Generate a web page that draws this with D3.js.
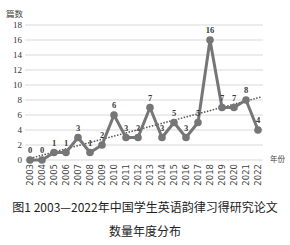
<!DOCTYPE html>
<html>
<head>
<meta charset="utf-8">
<script src="https://cdn.jsdelivr.net/npm/d3@7"></script>
<style>
  body { margin: 0; background: #fff; }
  svg { display: block; }
</style>
</head>
<body>
<div id="chart"></div>
<script>
var years = ["2003", "2004", "2005", "2006", "2007", "2008", "2009", "2010", "2011", "2012",
  "2013", "2014", "2015", "2016", "2017", "2018", "2019", "2020", "2021", "2022"];
var counts = [0, 0, 1, 1, 3, 1, 2, 6, 3, 3, 7, 3, 5, 3, 5, 16, 7, 7, 8, 4];
var yTicks = [0, 2, 4, 6, 8, 10, 12, 14, 16, 18];

var svgWidth = 290;
var svgHeight = 245;

var svg = d3.select("#chart")
  .append("svg")
  .attr("width", svgWidth)
  .attr("height", svgHeight);

// plot area
var x = d3.scalePoint()
  .domain(years)
  .range([30, 258]);

var y = d3.scaleLinear()
  .domain([0, 18])
  .range([160, 25]);

var serif = "'Liberation Serif', 'DejaVu Serif', serif";
var cjk = "'Noto Sans CJK SC', sans-serif";

// gridlines
svg.append("g")
  .selectAll("line")
  .data(yTicks)
  .enter()
  .append("line")
  .attr("x1", 25)
  .attr("x2", 263)
  .attr("y1", d => y(d))
  .attr("y2", d => y(d))
  .attr("stroke", "#d9d9d9")
  .attr("stroke-width", 1);

// y axis labels
var leftAxis = d3.axisLeft(y).tickValues(yTicks).tickSize(0).tickPadding(0);
var yAxis = svg.append("g")
  .attr("transform", "translate(22,0)")
  .call(leftAxis);
yAxis.select(".domain").remove();
yAxis.selectAll("text")
  .attr("font-family", serif)
  .attr("font-size", "9px")
  .attr("fill", "#333");

// x axis labels, rotated
var bottomAxis = d3.axisBottom(x).tickSize(0).tickPadding(0);
var xAxis = svg.append("g")
  .attr("transform", "translate(0,164)")
  .call(bottomAxis);
xAxis.select(".domain").remove();
xAxis.selectAll("text")
  .attr("font-family", "'DejaVu Sans', sans-serif")
  .attr("font-size", "8.5px")
  .attr("fill", "#444")
  .attr("text-anchor", "end")
  .attr("dy", "0.32em")
  .attr("transform", "rotate(-90)");

// linear trendline (least squares over the series)
var n = counts.length;
var mx = d3.mean(counts, (d, i) => i);
var my = d3.mean(counts);
var sxy = d3.sum(counts, (d, i) => (i - mx) * (d - my));
var sxx = d3.sum(counts, (d, i) => (i - mx) * (i - mx));
var slope = sxy / sxx;
var icpt = my - slope * mx;

svg.append("line")
  .attr("x1", x(years[0]))
  .attr("y1", y(icpt))
  .attr("x2", x(years[n - 1]) + 4)
  .attr("y2", y(icpt + slope * (n - 1 + 4 / x.step())))
  .attr("stroke", "#555")
  .attr("stroke-width", 1.5)
  .attr("stroke-dasharray", "1.5,1.5");

// series line
var line = d3.line()
  .x((d, i) => x(years[i]))
  .y(d => y(d));

svg.append("path")
  .datum(counts)
  .attr("fill", "none")
  .attr("stroke", "#767676")
  .attr("stroke-width", 3)
  .attr("stroke-linejoin", "round")
  .attr("d", line);

svg.append("g")
  .selectAll("circle")
  .data(counts)
  .enter()
  .append("circle")
  .attr("cx", (d, i) => x(years[i]))
  .attr("cy", d => y(d))
  .attr("r", 3.8)
  .attr("fill", "#767676");

// value labels
svg.append("g")
  .selectAll("text")
  .data(counts)
  .enter()
  .append("text")
  .attr("x", (d, i) => x(years[i]))
  .attr("y", d => y(d) - 7)
  .attr("text-anchor", "middle")
  .attr("font-family", serif)
  .attr("font-size", "8.5px")
  .attr("font-weight", "bold")
  .attr("fill", "#3a3a3a")
  .text(d => d);

// axis titles
svg.append("text")
  .attr("x", 6)
  .attr("y", 17)
  .attr("font-family", cjk)
  .attr("font-size", "8.5px")
  .attr("fill", "#444")
  .text("篇数");

svg.append("text")
  .attr("x", 270)
  .attr("y", 162)
  .attr("font-family", cjk)
  .attr("font-size", "7.5px")
  .attr("fill", "#444")
  .text("年份");

// caption
svg.append("text")
  .attr("x", 145)
  .attr("y", 212)
  .attr("text-anchor", "middle")
  .attr("font-family", cjk)
  .attr("font-size", "12px")
  .attr("fill", "#222")
  .text("图1 2003—2022年中国学生英语韵律习得研究论文");

svg.append("text")
  .attr("x", 145)
  .attr("y", 236)
  .attr("text-anchor", "middle")
  .attr("font-family", cjk)
  .attr("font-size", "12px")
  .attr("fill", "#222")
  .text("数量年度分布");
</script>
</body>
</html>
